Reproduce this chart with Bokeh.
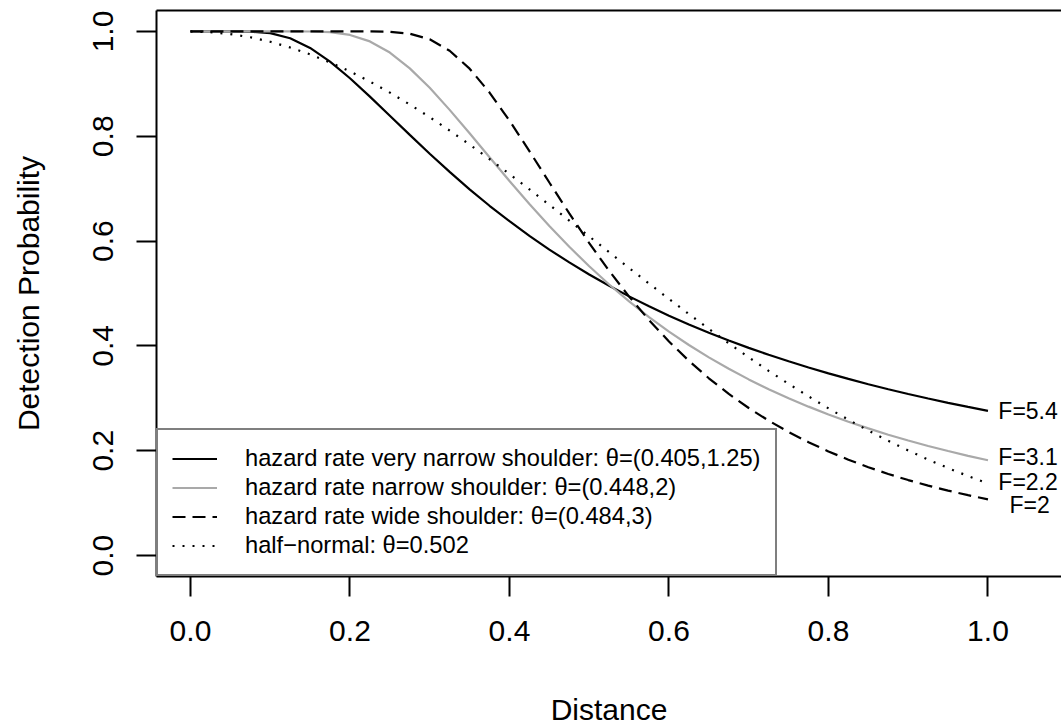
from bokeh.plotting import figure
from bokeh.models import (LinearAxis, FixedTicker, PrintfTickFormatter, Legend,
                          LegendItem, Range1d)
from bokeh.embed import file_html
from bokeh.resources import INLINE
from bokeh.core.properties import value

# ---------------- data ----------------
distance = [0.0, 0.025, 0.05, 0.075, 0.1, 0.125, 0.15, 0.175, 0.2, 0.225,
            0.25, 0.275, 0.3, 0.325, 0.35, 0.375, 0.4, 0.425, 0.45, 0.475,
            0.5, 0.525, 0.55, 0.575, 0.6, 0.625, 0.65, 0.675, 0.7, 0.725,
            0.75, 0.775, 0.8, 0.825, 0.85, 0.875, 0.9, 0.925, 0.95, 0.975, 1.0]

hr_very_narrow = [1.0, 1.0, 1.0, 0.9997, 0.9968, 0.9871, 0.9686, 0.9424, 0.9107, 0.8757,
                  0.8392, 0.8026, 0.7666, 0.7320, 0.6988, 0.6674, 0.6379, 0.6100, 0.5838, 0.5593,
                  0.5362, 0.5147, 0.4945, 0.4755, 0.4576, 0.4409, 0.4251, 0.4103, 0.3963, 0.3830,
                  0.3706, 0.3588, 0.3476, 0.3370, 0.3269, 0.3174, 0.3083, 0.2997, 0.2914, 0.2836, 0.2761]

hr_narrow = [1.0, 1.0, 1.0, 1.0, 1.0, 1.0, 0.9999, 0.9986, 0.9934, 0.9810,
             0.9597, 0.9296, 0.8925, 0.8504, 0.8057, 0.7600, 0.7148, 0.6708, 0.6288, 0.5892,
             0.5519, 0.5172, 0.4849, 0.4550, 0.4274, 0.4018, 0.3781, 0.3563, 0.3361, 0.3174,
             0.3001, 0.2841, 0.2692, 0.2554, 0.2426, 0.2306, 0.2195, 0.2091, 0.1994, 0.1903, 0.1819]

hr_wide = [1.0, 1.0, 1.0, 1.0, 1.0, 1.0, 1.0, 1.0, 1.0, 1.0,
           0.9993, 0.9957, 0.9850, 0.9632, 0.9290, 0.8835, 0.8299, 0.7717, 0.7118, 0.6528,
           0.5963, 0.5432, 0.4941, 0.4492, 0.4084, 0.3715, 0.3382, 0.3084, 0.2815, 0.2574,
           0.2357, 0.2162, 0.1987, 0.1829, 0.1686, 0.1557, 0.1440, 0.1335, 0.1239, 0.1152, 0.1072]

half_normal = [1.0, 0.9988, 0.9950, 0.9889, 0.9804, 0.9695, 0.9563, 0.9411, 0.9237, 0.9044,
               0.8834, 0.8607, 0.8365, 0.8109, 0.7842, 0.7565, 0.7280, 0.6988, 0.6691, 0.6391,
               0.6089, 0.5787, 0.5487, 0.5189, 0.4896, 0.4607, 0.4325, 0.4050, 0.3782, 0.3524,
               0.3276, 0.3037, 0.2809, 0.2591, 0.2385, 0.2189, 0.2005, 0.1831, 0.1669, 0.1516, 0.1375]

series_labels = ["hazard rate very narrow shoulder: \u03b8=(0.405,1.25)",
                 "hazard rate narrow shoulder: \u03b8=(0.448,2)",
                 "hazard rate wide shoulder: \u03b8=(0.484,3)",
                 "half\u2212normal: \u03b8=0.502"]

f_text = ["F=5.4", "F=3.1", "F=2.2", "F=2"]
f_x = [1.013, 1.013, 1.013, 1.027]
f_y = [0.275, 0.188, 0.140, 0.097]

ticks = [0.0, 0.2, 0.4, 0.6, 0.8, 1.0]

# ---------------- figure ----------------
FONT = "Liberation Sans"

p = figure(width=1061, height=728, output_backend="svg", toolbar_location=None,
           x_range=Range1d(-0.0426, 1.0922), y_range=Range1d(-0.04, 1.04),
           min_border_left=156, min_border_right=0, min_border_top=10,
           min_border_bottom=149,
           x_axis_label="Distance", y_axis_label="Detection Probability")
p.grid.visible = False
p.outline_line_color = None
p.background_fill_color = "white"
p.border_fill_color = "white"

for ax in (p.xaxis[0], p.yaxis[0]):
    ax.ticker = FixedTicker(ticks=ticks)
    ax.formatter = PrintfTickFormatter(format="%.1f")
    ax.major_tick_out = 20
    ax.major_tick_in = 0
    ax.minor_tick_out = 0
    ax.minor_tick_in = 0
    ax.axis_line_width = 2
    ax.axis_line_color = "black"
    ax.major_tick_line_width = 2
    ax.major_tick_line_color = "black"
    ax.major_label_text_font = FONT
    ax.major_label_text_font_size = "30px"
    ax.major_label_text_color = "black"
    ax.axis_label_text_font = FONT
    ax.axis_label_text_font_size = "30px"
    ax.axis_label_text_font_style = "normal"
    ax.axis_label_text_color = "black"

p.xaxis[0].major_label_standoff = 24
p.xaxis[0].axis_label_standoff = 49
p.yaxis[0].major_label_orientation = "vertical"
p.yaxis[0].major_label_standoff = 23
p.yaxis[0].axis_label_standoff = 46

top = LinearAxis(ticker=FixedTicker(ticks=[]), axis_line_width=2, axis_line_color="black",
                 major_tick_out=0, major_tick_in=0, minor_tick_out=0, minor_tick_in=0,
                 major_label_text_font_size="0px", major_label_standoff=0)
p.add_layout(top, "above")

LW = 2.2
r1 = p.line(distance, hr_very_narrow, line_color="black", line_width=LW)
r2 = p.line(distance, hr_narrow, line_color="#A9A9A9", line_width=LW)
r3 = p.line(distance, hr_wide, line_color="black", line_width=LW, line_dash="13 7")
r4 = p.line(distance, half_normal, line_color="black", line_width=LW, line_dash="2 8")

p.text(x=f_x, y=f_y, text=f_text, text_font=value(FONT), text_font_size=value("23px"),
       text_align="left", text_baseline="middle", text_color="black")

legend = Legend(items=[LegendItem(label=series_labels[0], renderers=[r1]),
                       LegendItem(label=series_labels[1], renderers=[r2]),
                       LegendItem(label=series_labels[2], renderers=[r3]),
                       LegendItem(label=series_labels[3], renderers=[r4])],
                location=(0, 0), margin=0, padding=14, spacing=0,
                glyph_width=45, glyph_height=29, label_height=29, label_standoff=28,
                label_text_font=FONT, label_text_font_size="23.7px", label_text_color="black",
                border_line_color="black", border_line_width=2,
                background_fill_color="white", background_fill_alpha=1.0)
p.add_layout(legend)

open("out.html", "w").write(file_html(p, INLINE))
